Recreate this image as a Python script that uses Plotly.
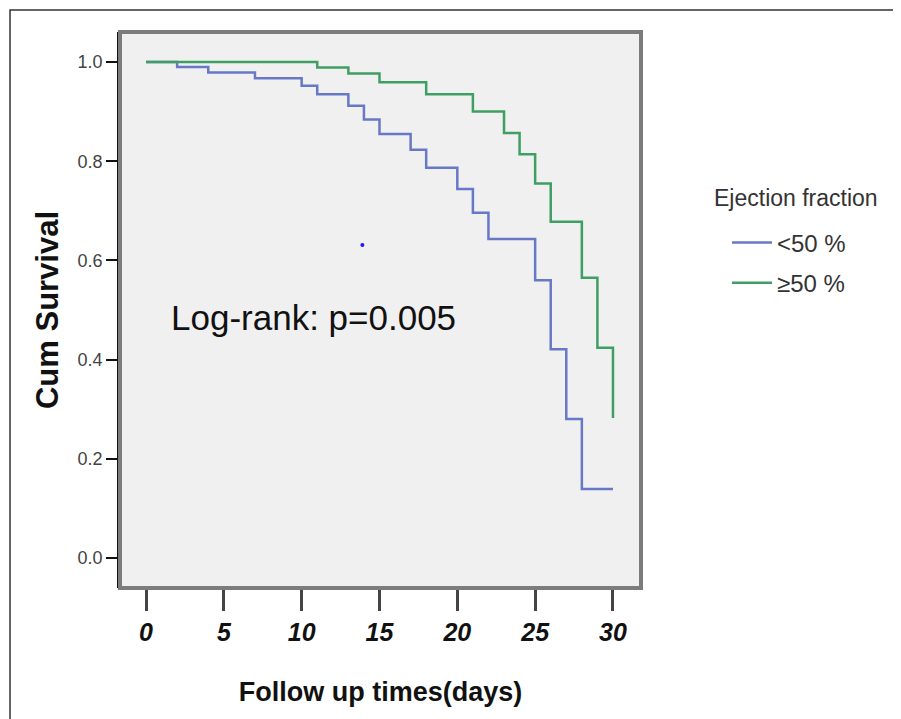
import plotly.graph_objects as go

# Kaplan-Meier step data
low_ef_days = [0, 2, 4, 7, 10, 11, 13, 14, 15, 17, 18, 20, 21, 22, 25, 26, 27, 28, 30]
low_ef_surv = [1.0, 0.990, 0.979, 0.967, 0.952, 0.935, 0.912, 0.884, 0.855, 0.823,
               0.787, 0.744, 0.696, 0.643, 0.560, 0.421, 0.280, 0.139, 0.139]

high_ef_days = [0, 11, 13, 15, 18, 21, 23, 24, 25, 26, 28, 29, 30]
high_ef_surv = [1.0, 0.989, 0.977, 0.959, 0.935, 0.900, 0.857, 0.814, 0.755, 0.678,
                0.565, 0.424, 0.282]

stray_day = [13.9]
stray_surv = [0.631]

x_ticks = [0, 5, 10, 15, 20, 25, 30]
y_ticks = [0.0, 0.2, 0.4, 0.6, 0.8, 1.0]
y_tick_labels = ["0.0", "0.2", "0.4", "0.6", "0.8", "1.0"]

group_names = ["<50 %", "≥50 %"]
colors = ["#6678c6", "#3f9f62"]

FONT = "Liberation Sans, Arial, sans-serif"

fig = go.Figure()
fig.add_trace(go.Scatter(
    x=low_ef_days, y=low_ef_surv, mode="lines", line_shape="hv",
    line=dict(color=colors[0], width=2.5), name=group_names[0],
    legendgroup="a"))
fig.add_trace(go.Scatter(
    x=high_ef_days, y=high_ef_surv, mode="lines", line_shape="hv",
    line=dict(color=colors[1], width=2.5), name=group_names[1],
    legendgroup="b"))
fig.add_trace(go.Scatter(
    x=stray_day, y=stray_surv, mode="markers",
    marker=dict(color="#1a1aff", size=4), showlegend=False, hoverinfo="skip"))

fig.add_annotation(
    x=1.5, y=0.484, xref="x", yref="y", text="Log-rank: p=0.005",
    showarrow=False, xanchor="left", yanchor="middle",
    font=dict(family=FONT, size=35, color="#111111"))

fig.add_annotation(
    x=1.136, y=0.7014, xref="paper", yref="paper", text="Ejection fraction",
    showarrow=False, xanchor="left", yanchor="middle",
    font=dict(family=FONT, size=23, color="#333333"))

# plot frame (grey border) and outer figure frame
fig.add_shape(type="rect", xref="paper", yref="paper", x0=0, y0=0, x1=1, y1=1,
              line=dict(color="#7c7c7c", width=4), layer="above")
fig.add_shape(type="rect", xref="paper", yref="paper",
              x0=-0.2111, y0=-0.35, x1=1.7, y1=1.0396,
              line=dict(color="#333333", width=1.5), layer="below")

fig.update_layout(
    width=893, height=711,
    margin=dict(l=112, r=260, t=24, b=131),
    paper_bgcolor="white", plot_bgcolor="#f0f0f0",
    font=dict(family=FONT, color="#222222"),
    legend=dict(
        x=1.165, y=0.661, xanchor="left", yanchor="top",
        font=dict(size=24, color="#333333"),
        bgcolor="rgba(0,0,0,0)", traceorder="grouped", tracegroupgap=6,
        itemwidth=40),
    xaxis=dict(
        range=[-1.67, 31.8], tickvals=x_ticks, showgrid=False, zeroline=False,
        showline=False, ticks="outside", ticklen=22, tickwidth=3, tickcolor="#444444",
        tickfont=dict(family=FONT, size=25, weight="bold", style="italic", color="#111111"),
        title=dict(text="Follow up times(days)", standoff=37,
                   font=dict(family=FONT, size=27, weight="bold", color="#111111"))),
    yaxis=dict(
        range=[-0.0605, 1.0605], tickvals=y_ticks, ticktext=y_tick_labels,
        showgrid=False, zeroline=False, showline=True, linecolor="#111111", linewidth=2.5,
        ticks="outside", ticklen=11, tickwidth=2, tickcolor="#111111",
        tickfont=dict(family=FONT, size=18, color="#444444"),
        title=dict(text="Cum Survival", standoff=10,
                   font=dict(family=FONT, size=31, weight="bold", color="#111111"))),
)

fig.write_html("out.html")
